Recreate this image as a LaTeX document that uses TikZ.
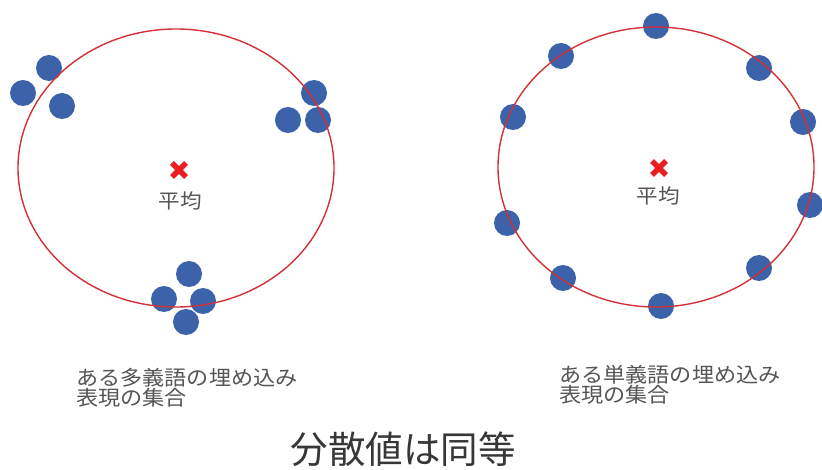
\documentclass[tikz,border=0pt]{standalone}
\usepackage{fontspec}
\usetikzlibrary{calc}
\setmainfont{Noto Sans CJK JP}
\definecolor{ringred}{RGB}{210,50,55}
\definecolor{dotblue}{RGB}{60,98,170}
\definecolor{markred}{RGB}{232,30,35}
\definecolor{txtgray}{RGB}{85,85,85}
\definecolor{titlegray}{RGB}{55,55,55}
\tikzset{
  pt/.style={circle,fill=dotblue,inner sep=0pt,minimum size=26pt},
  ring/.style={draw=ringred,line width=1.4pt},
  meanmark/.style={draw=markred,line width=5.5pt},
  meanlbl/.style={text=txtgray,font=\fontsize{20}{20}\selectfont,inner sep=0pt,xscale=1.08},
  caption/.style={text=txtgray,font=\fontsize{20.5}{20}\selectfont,align=left,inner sep=0pt,anchor=west,xscale=1.08},
}
\begin{document}
\begin{tikzpicture}[x=1pt,y=-1pt]
\useasboundingbox (0,0) rectangle (822,470);
\fill[white] (0,0) rectangle (822,470);
% left set: dots
\node[pt] (a1) at (49,68) {};
\node[pt] (a2) at (23,93) {};
\node[pt] (a3) at (62,106) {};
\node[pt] (b1) at (314,93) {};
\node[pt] (b2) at (288,120) {};
\node[pt] (b3) at (318,120) {};
\node[pt] (c1) at (189,274) {};
\node[pt] (c2) at (164,299) {};
\node[pt] (c3) at (203,301) {};
\node[pt] (c4) at (186,322) {};
\draw[ring] (176,168) ellipse [x radius=158, y radius=139];
% right set: dots
\node[pt] (r1) at (656,26) {};
\node[pt] (r2) at (561,56) {};
\node[pt] (r3) at (759,68) {};
\node[pt] (r4) at (513,117) {};
\node[pt] (r5) at (803,122) {};
\node[pt] (r6) at (810,205) {};
\node[pt] (r7) at (507,223) {};
\node[pt] (r8) at (563,278) {};
\node[pt] (r9) at (759,268) {};
\node[pt] (r10) at (661,306) {};
\draw[ring] (656,167) ellipse [x radius=158, y radius=140];
% means
\coordinate (ml) at (179,170);
\coordinate (mr) at (659,168);
\draw[meanmark] ($(ml)+(-7,-7)$) -- ($(ml)+(7,7)$) ($(ml)+(-7,7)$) -- ($(ml)+(7,-7)$);
\draw[meanmark] ($(mr)+(-7,-7)$) -- ($(mr)+(7,7)$) ($(mr)+(-7,7)$) -- ($(mr)+(7,-7)$);
\node[meanlbl] (ml-t) at (180,201) {平均};
\node[meanlbl] (mr-t) at (658,196) {平均};
% captions
\node[caption] (capl) at (76,388) {ある多義語の埋め込み\\表現の集合};
\node[caption] (capr) at (559,385) {ある単義語の埋め込み\\表現の集合};
\node[text=titlegray,font=\fontsize{37.5}{37.5}\selectfont,inner sep=0pt] (title) at (403,449) {分散値は同等};
\end{tikzpicture}
\end{document}
